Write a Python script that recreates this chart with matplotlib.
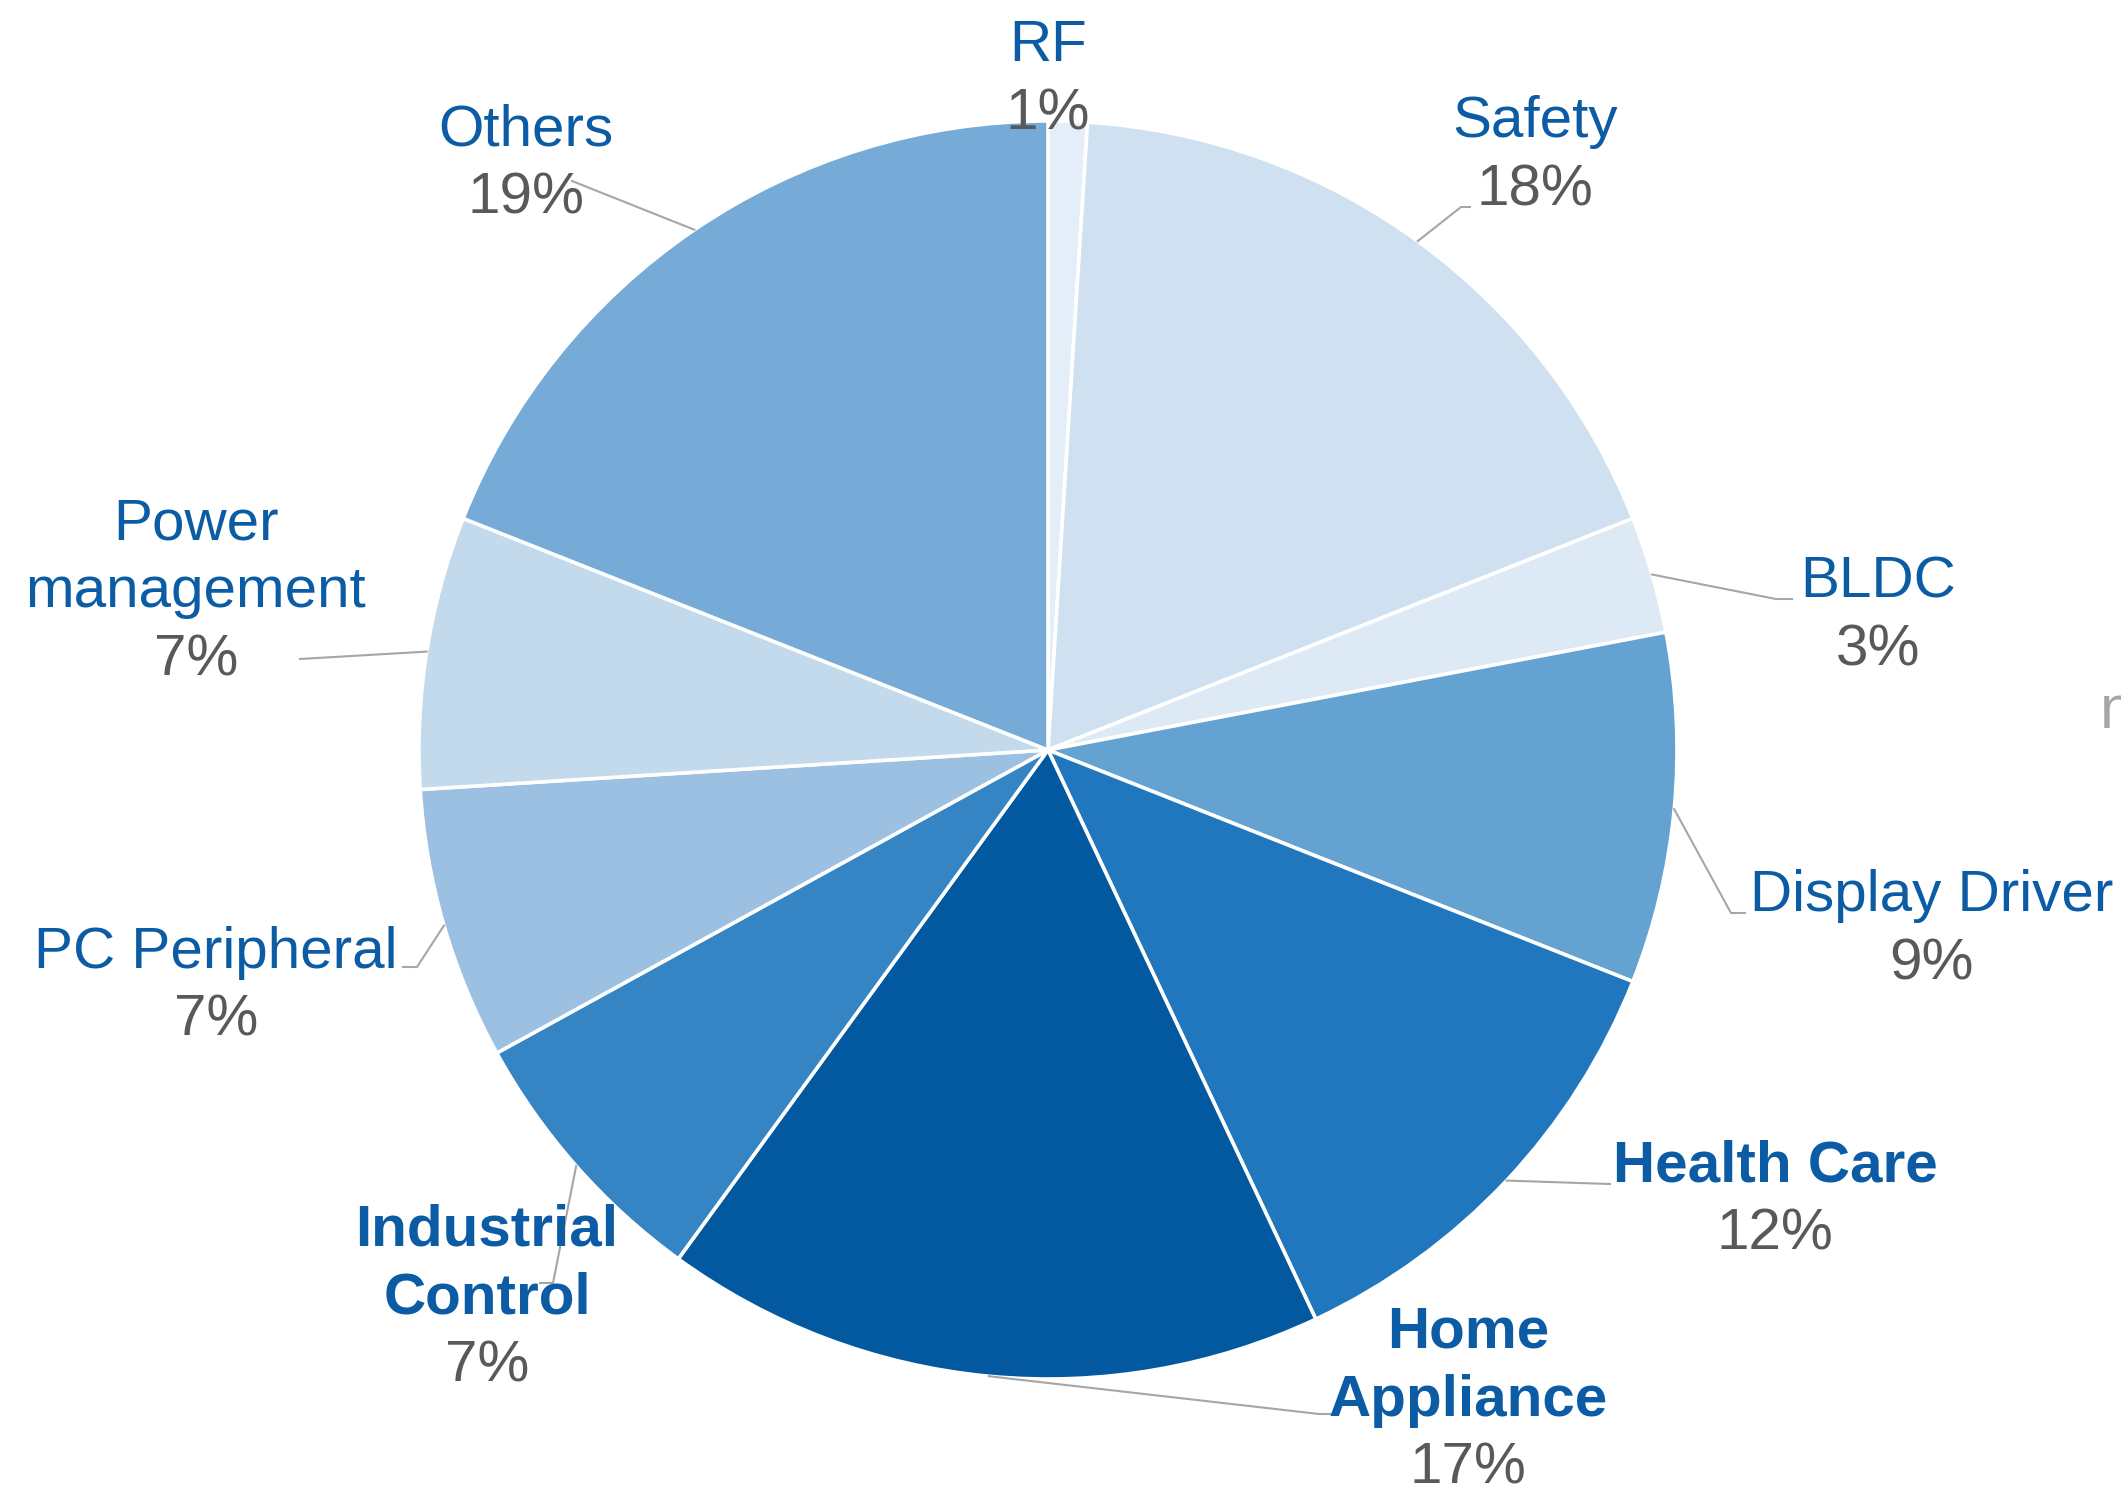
import matplotlib.pyplot as plt
import numpy as np

plt.rcParams['font.family'] = ['Liberation Sans', 'DejaVu Sans']

W, H = 2121, 1490

# dados
segmentos = ['RF', 'Safety', 'BLDC', 'Display Driver', 'Health Care', 'Home Appliance',
             'Industrial Control', 'PC Peripheral', 'Power management', 'Others']
participacao = [1, 18, 3, 9, 12, 17, 7, 7, 7, 19]
rotulos = [['RF'], ['Safety'], ['BLDC'], ['Display Driver'], ['Health Care'], ['Home', 'Appliance'],
           ['Industrial', 'Control'], ['PC Peripheral'], ['Power', 'management'], ['Others']]
negrito = ['Health Care', 'Home Appliance', 'Industrial Control']
cores = ['#e3eef8', '#cfe1f0', '#dde9f5', '#64a2d1', '#2177bd', '#02599f',
         '#3584c4', '#9bc0e2', '#c3d9ec', '#75abd6']

# posicao dos rotulos (pixels da imagem, centro x e linha de base da primeira linha)
pos_rotulo = [(1048, 61), (1535, 137), (1878, 597), (1932, 911), (1775, 1181), (1468, 1348),
              (487, 1245), (216, 968), (196, 539), (526, 145)]
# cotovelos das linhas de chamada (None = sem linha)
chamada = [None,
           [(1461, 207), (1470, 207)],
           [(1776, 599), (1792, 599)],
           [(1731, 913), (1745, 913)],
           [(1610, 1184)],
           [(1319, 1414), (1332, 1414)],
           [(553, 1283), (540, 1283)],
           [(417, 967), (403, 967)],
           [(300, 659)],
           [(572, 181)]]

cx, cy, raio = 1048, 750, 629
Y = lambda y: H - y

fig = plt.figure(figsize=(W / 100, H / 100), dpi=100)
ax = fig.add_axes([0, 0, 1, 1])

fatias, _ = ax.pie(participacao, colors=cores, startangle=90, counterclock=False,
                   center=(cx, Y(cy)), radius=raio,
                   wedgeprops=dict(edgecolor='white', linewidth=2.6))

ax.set_xlim(0, W)
ax.set_ylim(0, H)
ax.set_aspect('equal')
ax.axis('off')

passo = 68
for i, fatia in enumerate(fatias):
    peso = 'bold' if segmentos[i] in negrito else 'normal'
    x0, y0 = pos_rotulo[i]
    linhas = rotulos[i]
    for k, linha in enumerate(linhas):
        ax.text(x0, Y(y0 + k * passo), linha, ha='center', va='baseline',
                fontsize=42, color='#0b5ca4', fontweight=peso)
    ax.text(x0, Y(y0 + len(linhas) * passo), f'{participacao[i]}%', ha='center', va='baseline',
            fontsize=42, color='#595959')

    if chamada[i] is not None:
        ang = np.deg2rad((fatia.theta1 + fatia.theta2) / 2)
        xs = [fatia.center[0] + fatia.r * np.cos(ang)]
        ys = [fatia.center[1] + fatia.r * np.sin(ang)]
        for px, py in chamada[i]:
            xs.append(px)
            ys.append(Y(py))
        ax.plot(xs, ys, color='#a6a6a6', linewidth=1.5)

# pedaco de texto cortado na borda direita
ax.text(2100, Y(728), 'n', ha='left', va='baseline', fontsize=44, color='#a6a6a6')

fig.savefig('out.png', dpi=100)
